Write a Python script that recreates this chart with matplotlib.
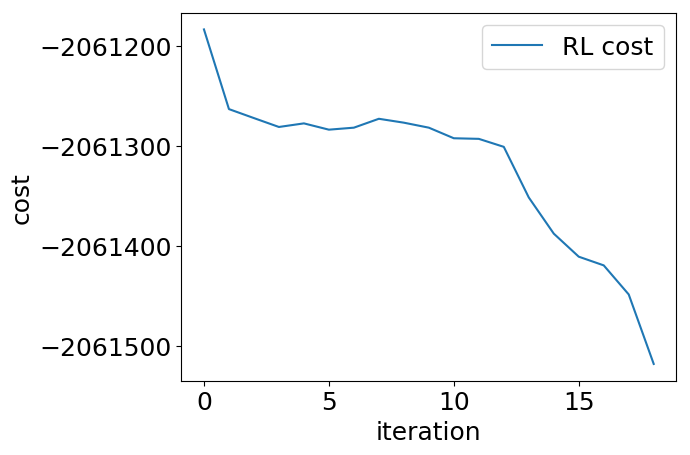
import matplotlib
matplotlib.use("Agg")
import matplotlib.pyplot as plt
import numpy as np

iteracoes = np.arange(19)
custoRL = [-2061183.4, -2061263.2, -2061272.2, -2061281.1, -2061277.5,
           -2061283.8, -2061281.8, -2061272.9, -2061276.8, -2061281.8,
           -2061292.4, -2061293.0, -2061301.0, -2061351.7, -2061387.9,
           -2061411.0, -2061419.7, -2061448.8, -2061518.4]

plt.rcParams['font.size'] = 18

fig, ax = plt.subplots(figsize=(6.9, 4.56), dpi=100)
ax.plot(iteracoes, custoRL, label="RL cost")
ax.ticklabel_format(axis='y', useOffset=False, style='plain')
ax.set_xlabel("iteration")
ax.set_ylabel("cost")
ax.legend(loc="upper right")
fig.subplots_adjust(left=0.263, right=0.98, top=0.97, bottom=0.163)
fig.savefig("out.png")
